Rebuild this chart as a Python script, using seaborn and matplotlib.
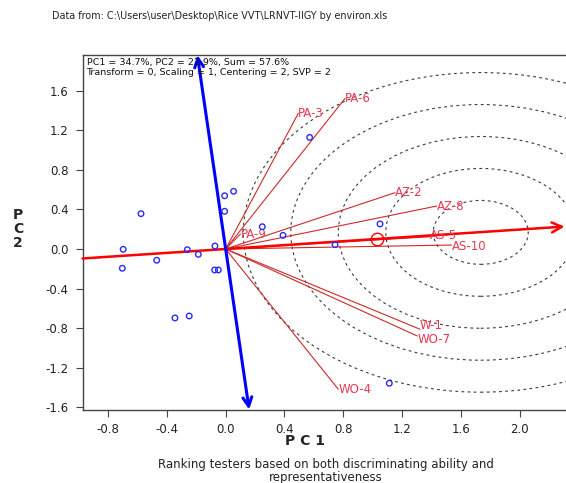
import matplotlib
matplotlib.use("Agg")
import matplotlib.pyplot as plt
from matplotlib.patches import Circle
import seaborn as sns
import pandas as pd

# genotype scores (blue points)
gen_pc1 = [-0.576, -0.697, -0.703, -0.469, -0.261, -0.186, -0.073, -0.075, -0.050, -0.345,
           -0.248, -0.007, 0.054, -0.007, 0.571, 0.249, 0.390, 0.744, 1.050, 1.113]
gen_pc2 = [0.357, -0.003, -0.195, -0.114, -0.007, -0.054, 0.030, -0.212, -0.212, -0.697,
           -0.677, 0.538, 0.583, 0.381, 1.128, 0.225, 0.138, 0.044, 0.253, -1.357]

# tester (environment) vectors
env_names = ["PA-6", "PA-3", "PA-9", "AZ-2", "AZ-8", "AS-5", "AS-10", "W-1", "WO-7", "WO-4"]
env_pc1 = [0.812, 0.494, 0.100, 1.152, 1.435, 1.390, 1.537, 1.322, 1.303, 0.766]
env_pc2 = [1.522, 1.371, 0.150, 0.569, 0.434, 0.124, 0.040, -0.811, -0.879, -1.417]
# small vertical nudges so the W-1 / WO-7 labels don't sit on each other
label_dy = [0, 0, 0, 0, 0, 0.01, -0.01, 0.035, -0.035, 0]

# average environment coordinate and concentric rings
aec_pc1, aec_pc2 = 1.027, 0.101
ring_pc1, ring_pc2 = 1.735, 0.168
ring_step = 0.323
n_rings = 5

x_ticks = [-0.8, -0.4, 0.0, 0.4, 0.8, 1.2, 1.6, 2.0]
y_ticks = [-1.6, -1.2, -0.8, -0.4, 0.0, 0.4, 0.8, 1.2, 1.6]
x_lim = (-0.973, 2.315)
y_lim = (-1.623, 1.96)

sns.set_style("ticks")
plt.rcParams["font.family"] = ["DejaVu Sans"]

fig = plt.figure(figsize=(5.66, 4.83), dpi=100)
ax = fig.add_axes([0.146, 0.152, 0.854, 0.734])
ax.set_xlim(*x_lim)
ax.set_ylim(*y_lim)

# rings around the ideal tester
for k in range(1, n_rings + 1):
    ax.add_patch(Circle((ring_pc1, ring_pc2), k * ring_step, fill=False,
                        ls=(0, (2.5, 3)), lw=0.8, ec="#3a3a3a", zorder=1))

# tester vectors
for nm, x, y, dy in zip(env_names, env_pc1, env_pc2, label_dy):
    ax.plot([0, x], [0, y], color="#cc2a2a", lw=0.8, zorder=2)
    ax.text(x, y + dy, nm, color="#e8384f", fontsize=8.5, ha="left", va="center", zorder=5)

# average environment axis (red) and its perpendicular (blue)
slope = aec_pc2 / aec_pc1
ax.annotate("", xy=(x_lim[1] - 0.01, slope * (x_lim[1] - 0.01)),
            xytext=(x_lim[0], slope * x_lim[0]),
            arrowprops=dict(arrowstyle="->", color="#ff0000", lw=1.8,
                            mutation_scale=18, shrinkA=0, shrinkB=0), zorder=3)
ax.annotate("", xy=(-slope * y_lim[1], y_lim[1]), xytext=(-slope * y_lim[0], y_lim[0]),
            arrowprops=dict(arrowstyle="<->", color="#0000ff", lw=2.2,
                            mutation_scale=16, shrinkA=0, shrinkB=0), zorder=4)

# genotypes
df = pd.DataFrame({"PC1": gen_pc1, "PC2": gen_pc2})
sns.scatterplot(data=df, x="PC1", y="PC2", ax=ax, s=16, fc="none", ec="#2a2aff",
                linewidth=1.0, zorder=6)
ax.plot(aec_pc1, aec_pc2, "o", ms=9, mfc="none", mec="#ff0000", mew=1.0, zorder=6)

ax.set_xticks(x_ticks)
ax.set_yticks(y_ticks)
ax.set_xticklabels([f"{v:.1f}" for v in x_ticks])
ax.set_yticklabels([f"{v:.1f}" for v in y_ticks])
ax.tick_params(direction="out", length=5, width=0.8, colors="#444444",
               labelsize=8.5, labelcolor="#222222", pad=5)
for s in ["left", "bottom", "top"]:
    ax.spines[s].set_color("#444444")
    ax.spines[s].set_linewidth(1.0)
ax.spines["right"].set_visible(False)

ax.set_xlabel("")
ax.set_ylabel("")
ax.text(0.008, 0.992, "PC1 = 34.7%, PC2 = 22.9%, Sum = 57.6%\n"
        "Transform = 0, Scaling = 1, Centering = 2, SVP = 2",
        transform=ax.transAxes, fontsize=6.8, ha="left", va="top", linespacing=1.1,
        color="#111111", zorder=7)

fig.text(52 / 566, 1 - 16 / 483,
         "Data from: C:\\Users\\user\\Desktop\\Rice VVT\\LRNVT-IIGY by environ.xls",
         fontsize=6.9, ha="left", va="center", color="#222222")
fig.text(305 / 566, 1 - 441 / 483, "P C 1", fontsize=10, fontweight="bold",
         ha="center", va="center")
fig.text(18 / 566, 1 - 229 / 483, "P\nC\n2", fontsize=10, fontweight="bold",
         ha="center", va="center", linespacing=1.0)
fig.text(326 / 566, 1 - 471 / 483,
         "Ranking testers based on both discriminating ability and\nrepresentativeness",
         fontsize=8.5, ha="center", va="center", linespacing=1.0, color="#222222")

fig.savefig("out.png", dpi=100)
